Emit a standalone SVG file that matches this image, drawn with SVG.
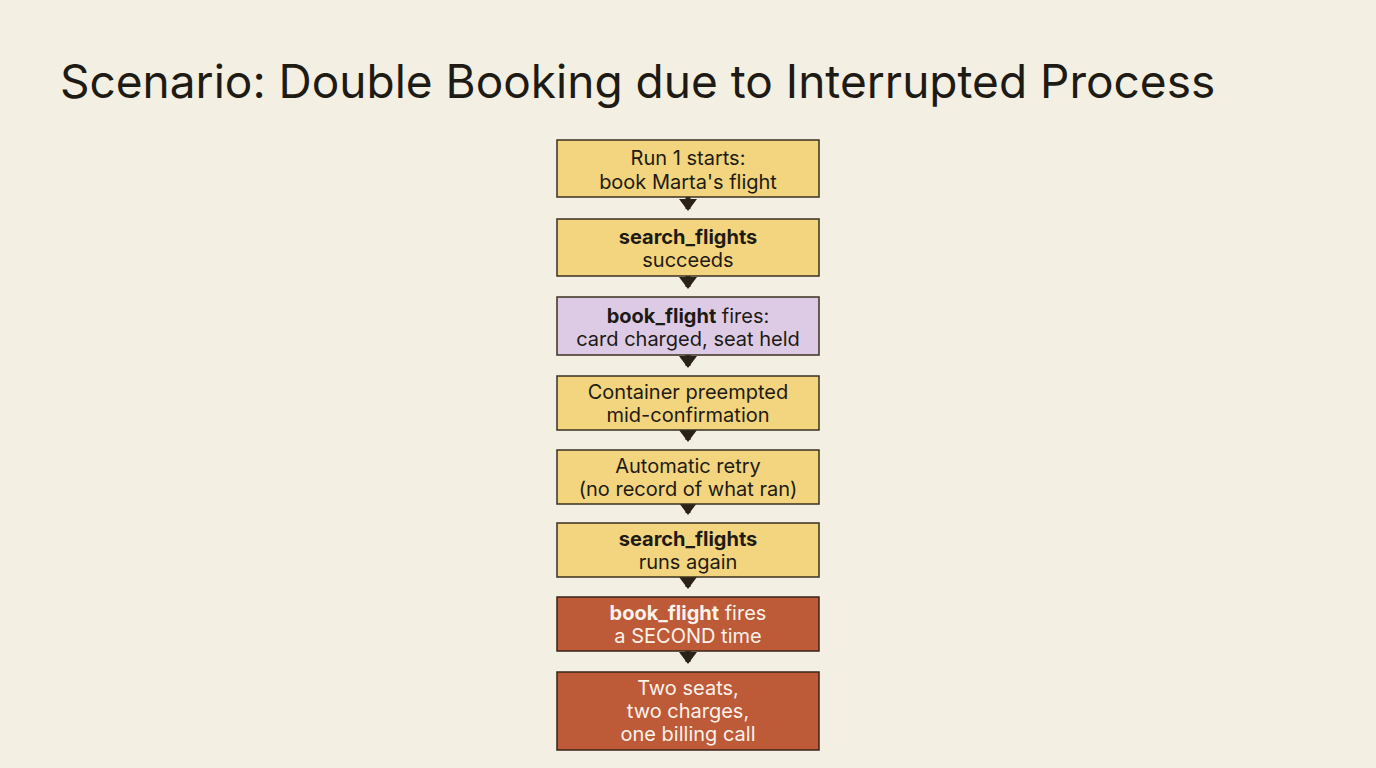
<svg xmlns="http://www.w3.org/2000/svg" width="1376" height="768" viewBox="0 0 1376 768">
<style>
text{font-family:Inter,"Noto Sans",sans-serif;text-anchor:middle;font-size:20px;fill:#1e1a14}
.y{fill:#f2d57e;stroke:#3a3020;stroke-width:1.5}
.p{fill:#ddcbe6;stroke:#3a3020;stroke-width:1.5}
.r{fill:#bd5a38;stroke:#3a2518;stroke-width:1.5}
.w{fill:#fbf2ea}
b,.b{font-weight:700}
</style>
<defs><marker id="ah" markerWidth="4" markerHeight="4" refX="2" refY="2" orient="auto" markerUnits="strokeWidth"><path d="M0,0.2 L2.4,2 L0,3.8 Z" fill="#2a2218"/></marker></defs>
<rect width="1376" height="768" fill="#f3efe3"/>
<text x="60" y="98" style="text-anchor:start;font-size:46px">Scenario: Double Booking due to Interrupted Process</text>
<g id="connectors" stroke="#2a2218" stroke-width="5" marker-end="url(#ah)">
<line x1="688" y1="197" x2="688" y2="209"/>
<line x1="688" y1="276" x2="688" y2="287"/>
<line x1="688" y1="355" x2="688" y2="366"/>
<line x1="688" y1="430" x2="688" y2="440"/>
<line x1="688" y1="504" x2="688" y2="513"/>
<line x1="688" y1="577" x2="688" y2="587"/>
<line x1="688" y1="651" x2="688" y2="662"/>
</g>
<g id="n1"><rect class="y" x="557" y="140" width="262" height="57"/><text x="688" y="165">Run 1 starts:</text><text x="688" y="189">book Marta's flight</text></g>
<g id="n2"><rect class="y" x="557" y="219" width="262" height="57"/><text x="688" y="244" class="b">search_flights</text><text x="688" y="267">succeeds</text></g>
<g id="n3"><rect class="p" x="557" y="297" width="262" height="58"/><text x="688" y="323"><tspan class="b">book_flight</tspan> fires:</text><text x="688" y="346">card charged, seat held</text></g>
<g id="n4"><rect class="y" x="557" y="376" width="262" height="54"/><text x="688" y="399">Container preempted</text><text x="688" y="422">mid-confirmation</text></g>
<g id="n5"><rect class="y" x="557" y="450" width="262" height="54"/><text x="688" y="473">Automatic retry</text><text x="688" y="496">(no record of what ran)</text></g>
<g id="n6"><rect class="y" x="557" y="523" width="262" height="54"/><text x="688" y="546" class="b">search_flights</text><text x="688" y="569">runs again</text></g>
<g id="n7"><rect class="r" x="557" y="597" width="262" height="54"/><text x="688" y="620" class="w"><tspan class="b">book_flight</tspan> fires</text><text x="688" y="643" class="w">a SECOND time</text></g>
<g id="n8"><rect class="r" x="557" y="672" width="262" height="78"/><text x="688" y="695" class="w">Two seats,</text><text x="688" y="718" class="w">two charges,</text><text x="688" y="741" class="w">one billing call</text></g>
</svg>
